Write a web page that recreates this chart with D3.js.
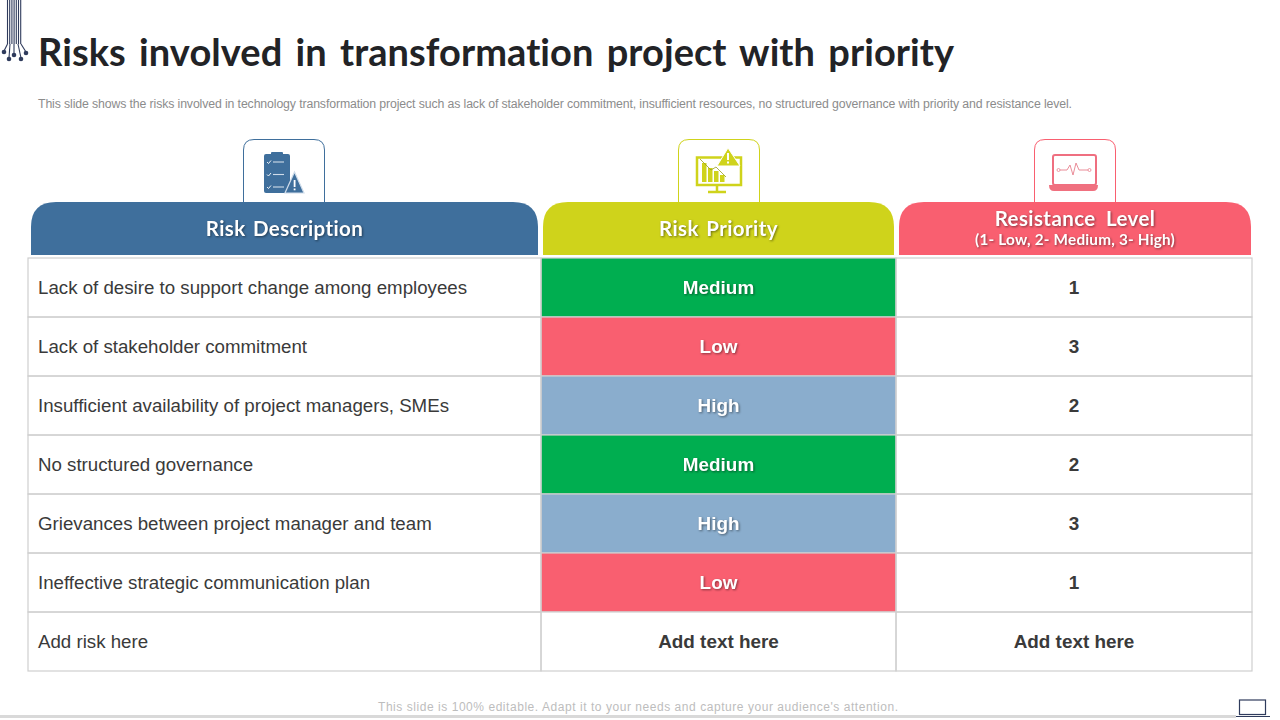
<!DOCTYPE html>
<html>
<head>
<meta charset="utf-8">
<script src="https://cdn.jsdelivr.net/npm/d3@7"></script>
<style>
  html, body { margin: 0; padding: 0; background: #fff; overflow: hidden; }
  svg { display: block; }
  text { font-variant-ligatures: none; }
  .body { font-family: "Liberation Sans", Arial, sans-serif; }
  .head { font-family: Lato, "Open Sans", sans-serif; font-weight: 700; }
  .shadow { filter: drop-shadow(1px 1px 1px rgba(0,0,0,.45)); }
</style>
</head>
<body>
<svg id="slide" width="1280" height="720"></svg>
<script>
const titleText = 'Risks involved in transformation project with priority'
const subtitleText = 'This slide shows the risks involved in technology transformation project such as lack of stakeholder commitment, insufficient resources, no structured governance with priority and resistance level.'
const footerText = "This slide is 100% editable. Adapt it to your needs and capture your audience's attention."

const columns = ['Risk Description', 'Risk Priority', 'Resistance Level']
const resistanceNote = '(1- Low, 2- Medium, 3- High)'
const headerColors = ['#3f6f9c', '#cfd31b', '#f95f70']

const risks = [
  'Lack of desire to support change among employees',
  'Lack of stakeholder commitment',
  'Insufficient availability of project managers, SMEs',
  'No structured governance',
  'Grievances between project manager and team',
  'Ineffective strategic communication plan',
  'Add risk here'
]
const priorities = ['Medium', 'Low', 'High', 'Medium', 'High', 'Low', 'Add text here']
const resistance = ['1', '3', '2', '2', '3', '1', 'Add text here']
const priorityLevels = ['Medium', 'Low', 'High']
const priorityColors = ['#00ae50', '#f95f70', '#8aadcd']

const svg = d3.select('#slide')

/* table scales */
const y = d3.scaleBand().domain(d3.range(risks.length)).range([258, 671])
const x = d3.scaleOrdinal().domain(columns).range([28, 541, 896])
const colWidth = d3.scaleOrdinal().domain(columns).range([513, 355, 356])
const priorityColor = d3.scaleOrdinal().domain(priorityLevels).range(priorityColors).unknown('#fff')

/* title block */
svg.append('text')
  .attr('class', 'head')
  .attr('x', 38).attr('y', 66)
  .attr('font-size', 38)
  .attr('fill', '#222326')
  .attr('word-spacing', 4)
  .attr('textLength', 916)
  .text(titleText)

svg.append('text')
  .attr('class', 'body')
  .attr('x', 38).attr('y', 108)
  .attr('font-size', 12.3)
  .attr('fill', '#8c8c8c')
  .attr('textLength', 1034)
  .text(subtitleText)

/* circuit decoration, top left */
const circuit = svg.append('g').attr('stroke', '#2f3b5c').attr('fill', 'none').attr('stroke-width', 1.1)
d3.range(7).forEach(i => {
  const lx = 7.5 + i * 2.2
  circuit.append('line').attr('x1', lx).attr('x2', lx).attr('y1', 0).attr('y2', 44)
})
const traces = [[7.5, 44, 4, 51], [10, 44, 9, 58], [14, 44, 14, 54], [18, 44, 21, 58], [21, 44, 26, 52]]
traces.forEach(t => {
  circuit.append('line').attr('x1', t[0]).attr('y1', t[1]).attr('x2', t[2]).attr('y2', t[3])
  circuit.append('circle').attr('cx', t[2]).attr('cy', t[3] + 1).attr('r', 2.3).attr('fill', '#2f3b5c').attr('stroke', 'none')
})

/* icon tabs above the headers */
const tabX = d3.scaleOrdinal().domain(columns).range([243, 678, 1034])
const tabs = svg.selectAll('.tab').data(columns).enter().append('g')
  .attr('transform', d => `translate(${tabX(d)},139)`)
tabs.append('path')
  .attr('d', 'M0.5,63 V11 Q0.5,0.5 11,0.5 H71 Q81.5,0.5 81.5,11 V63')
  .attr('fill', '#fff')
  .attr('stroke', (d, i) => headerColors[i])

/* clipboard icon */
const clip = tabs.filter((d, i) => i === 0)
clip.append('rect').attr('x', 21).attr('y', 15).attr('width', 26).attr('height', 39).attr('rx', 2).attr('fill', '#3f6f9c')
clip.append('rect').attr('x', 28).attr('y', 13).attr('width', 12).attr('height', 4).attr('rx', 1).attr('fill', '#3f6f9c')
d3.range(3).forEach(i => {
  clip.append('path').attr('d', `M24,${23 + i * 12.5} l1.5,1.5 l2.5,-3`).attr('fill', 'none')
    .attr('stroke', '#fff').attr('stroke-width', 0.9)
  clip.append('line').attr('x1', 30).attr('x2', 41).attr('y1', 23 + i * 12.5).attr('y2', 23 + i * 12.5)
    .attr('stroke', '#cfdcea').attr('stroke-width', 1.1)
})
clip.append('path').attr('d', 'M51.5,33 L61,54 H42 Z').attr('fill', '#3f6f9c').attr('stroke', '#cfdcea').attr('stroke-width', 1.2)
clip.append('rect').attr('x', 50.7).attr('y', 41).attr('width', 1.8).attr('height', 7).attr('fill', '#fff')
clip.append('rect').attr('x', 50.7).attr('y', 49.5).attr('width', 1.8).attr('height', 1.8).attr('fill', '#fff')

/* monitor icon */
const monitor = tabs.filter((d, i) => i === 1)
monitor.append('rect').attr('x', 19).attr('y', 18.5).attr('width', 44).attr('height', 27.5).attr('fill', '#fff').attr('stroke', '#cfd31b').attr('stroke-width', 2.5)
monitor.append('path').attr('d', 'M39,47 V52 M30,53 H48').attr('stroke', '#cfd31b').attr('stroke-width', 2.5)
;[[24, 19], [30, 14], [36, 11], [42, 7]].forEach(b => {
  monitor.append('rect').attr('x', b[0]).attr('y', 43 - b[1]).attr('width', 4.5).attr('height', b[1]).attr('fill', '#cfd31b')
})
monitor.append('path').attr('d', 'M22,20 L33,31 L38,28 L48,38').attr('fill', 'none').attr('stroke', '#9aa01a').attr('stroke-width', 0.8)
monitor.append('path').attr('d', 'M50,9 L62,27 H39 Z').attr('fill', '#cfd31b').attr('stroke', '#fff').attr('stroke-width', 1)
monitor.append('rect').attr('x', 49).attr('y', 14).attr('width', 2).attr('height', 7).attr('fill', '#fff')
monitor.append('rect').attr('x', 49).attr('y', 22.5).attr('width', 2).attr('height', 2).attr('fill', '#fff')

/* laptop icon */
const laptop = tabs.filter((d, i) => i === 2)
laptop.append('rect').attr('x', 19).attr('y', 16).attr('width', 43).attr('height', 30).attr('rx', 2).attr('fill', '#fff').attr('stroke', '#ef6f80').attr('stroke-width', 2)
laptop.append('path').attr('d', 'M15,46 H64 Q64,52 59,52 H20 Q15,52 15,46 Z').attr('fill', '#f0707f')
laptop.append('path').attr('d', 'M26,31 H33 L36,26 L39,36 L42,24 L45,31 H54').attr('fill', 'none').attr('stroke', '#e8808d').attr('stroke-width', 0.9)
laptop.append('circle').attr('cx', 24.5).attr('cy', 31).attr('r', 1.5).attr('fill', 'none').attr('stroke', '#e8808d').attr('stroke-width', 0.8)
laptop.append('circle').attr('cx', 55.5).attr('cy', 31).attr('r', 1.5).attr('fill', 'none').attr('stroke', '#e8808d').attr('stroke-width', 0.8)

/* column headers */
const headX = d3.scaleOrdinal().domain(columns).range([31, 543, 899])
const headW = d3.scaleOrdinal().domain(columns).range([507, 351, 352])
const headers = svg.selectAll('.header').data(columns).enter().append('g')
headers.append('path')
  .attr('d', d => {
    const x0 = headX(d), w = headW(d), r = 25, top = 202, bottom = 255
    return `M${x0},${bottom} V${top + r} Q${x0},${top} ${x0 + r},${top} H${x0 + w - r} Q${x0 + w},${top} ${x0 + w},${top + r} V${bottom} Z`
  })
  .attr('fill', (d, i) => headerColors[i])
headers.append('text')
  .attr('class', 'head shadow')
  .attr('x', d => headX(d) + headW(d) / 2)
  .attr('y', (d, i) => i === 2 ? 226 : 236)
  .attr('text-anchor', 'middle')
  .attr('font-size', 20.5)
  .attr('letter-spacing', 0.4)
  .attr('word-spacing', (d, i) => i === 2 ? 5 : 2)
  .attr('fill', '#fff')
  .text(d => d)
svg.append('text')
  .attr('class', 'head shadow')
  .attr('x', headX(columns[2]) + headW(columns[2]) / 2)
  .attr('y', 245)
  .attr('text-anchor', 'middle')
  .attr('font-size', 15.3)
  .attr('letter-spacing', 0.2)
  .attr('fill', '#fff')
  .text(resistanceNote)

/* table rows */
const rows = svg.selectAll('.row').data(risks).enter().append('g')
  .attr('transform', (d, i) => `translate(0,${y(i)})`)

rows.append('rect')
  .attr('x', x(columns[1])).attr('width', colWidth(columns[1]))
  .attr('height', y.bandwidth())
  .attr('fill', (d, i) => priorityColor(priorities[i]))

columns.forEach(c => {
  rows.append('rect')
    .attr('x', x(c)).attr('width', colWidth(c))
    .attr('height', y.bandwidth())
    .attr('fill', 'none')
    .attr('stroke', '#cfcfcf')
    .attr('stroke-width', 1.2)
})

rows.append('text')
  .attr('class', 'body')
  .attr('x', 38)
  .attr('y', y.bandwidth() / 2 + 6)
  .attr('font-size', 18.7)
  .attr('fill', '#3a3a3a')
  .text(d => d)

rows.append('text')
  .attr('class', (d, i) => priorityLevels.includes(priorities[i]) ? 'body shadow' : 'body')
  .attr('x', x(columns[1]) + colWidth(columns[1]) / 2)
  .attr('y', y.bandwidth() / 2 + 6)
  .attr('text-anchor', 'middle')
  .attr('font-size', 18.9)
  .attr('font-weight', 700)
  .attr('fill', (d, i) => priorityLevels.includes(priorities[i]) ? '#fff' : '#3a3a3a')
  .text((d, i) => priorities[i])

rows.append('text')
  .attr('class', 'body')
  .attr('x', x(columns[2]) + colWidth(columns[2]) / 2)
  .attr('y', y.bandwidth() / 2 + 6)
  .attr('text-anchor', 'middle')
  .attr('font-size', 18.9)
  .attr('font-weight', 700)
  .attr('fill', '#3a3a3a')
  .text((d, i) => resistance[i])

/* footer */
svg.append('text')
  .attr('class', 'body')
  .attr('x', 638).attr('y', 711)
  .attr('text-anchor', 'middle')
  .attr('font-size', 12)
  .attr('fill', '#bdbdbd')
  .attr('textLength', 520)
  .text(footerText)
svg.append('rect').attr('x', 0).attr('y', 715).attr('width', 1236).attr('height', 3).attr('fill', '#d9d9d9')
svg.append('rect').attr('x', 1239.5).attr('y', 700).attr('width', 26).attr('height', 14.5).attr('fill', '#fff').attr('stroke', '#2f3b5c').attr('stroke-width', 1.2)
svg.append('line').attr('x1', 1236).attr('x2', 1270).attr('y1', 716.5).attr('y2', 716.5).attr('stroke', '#2f3b5c').attr('stroke-width', 1)
</script>
</body>
</html>
